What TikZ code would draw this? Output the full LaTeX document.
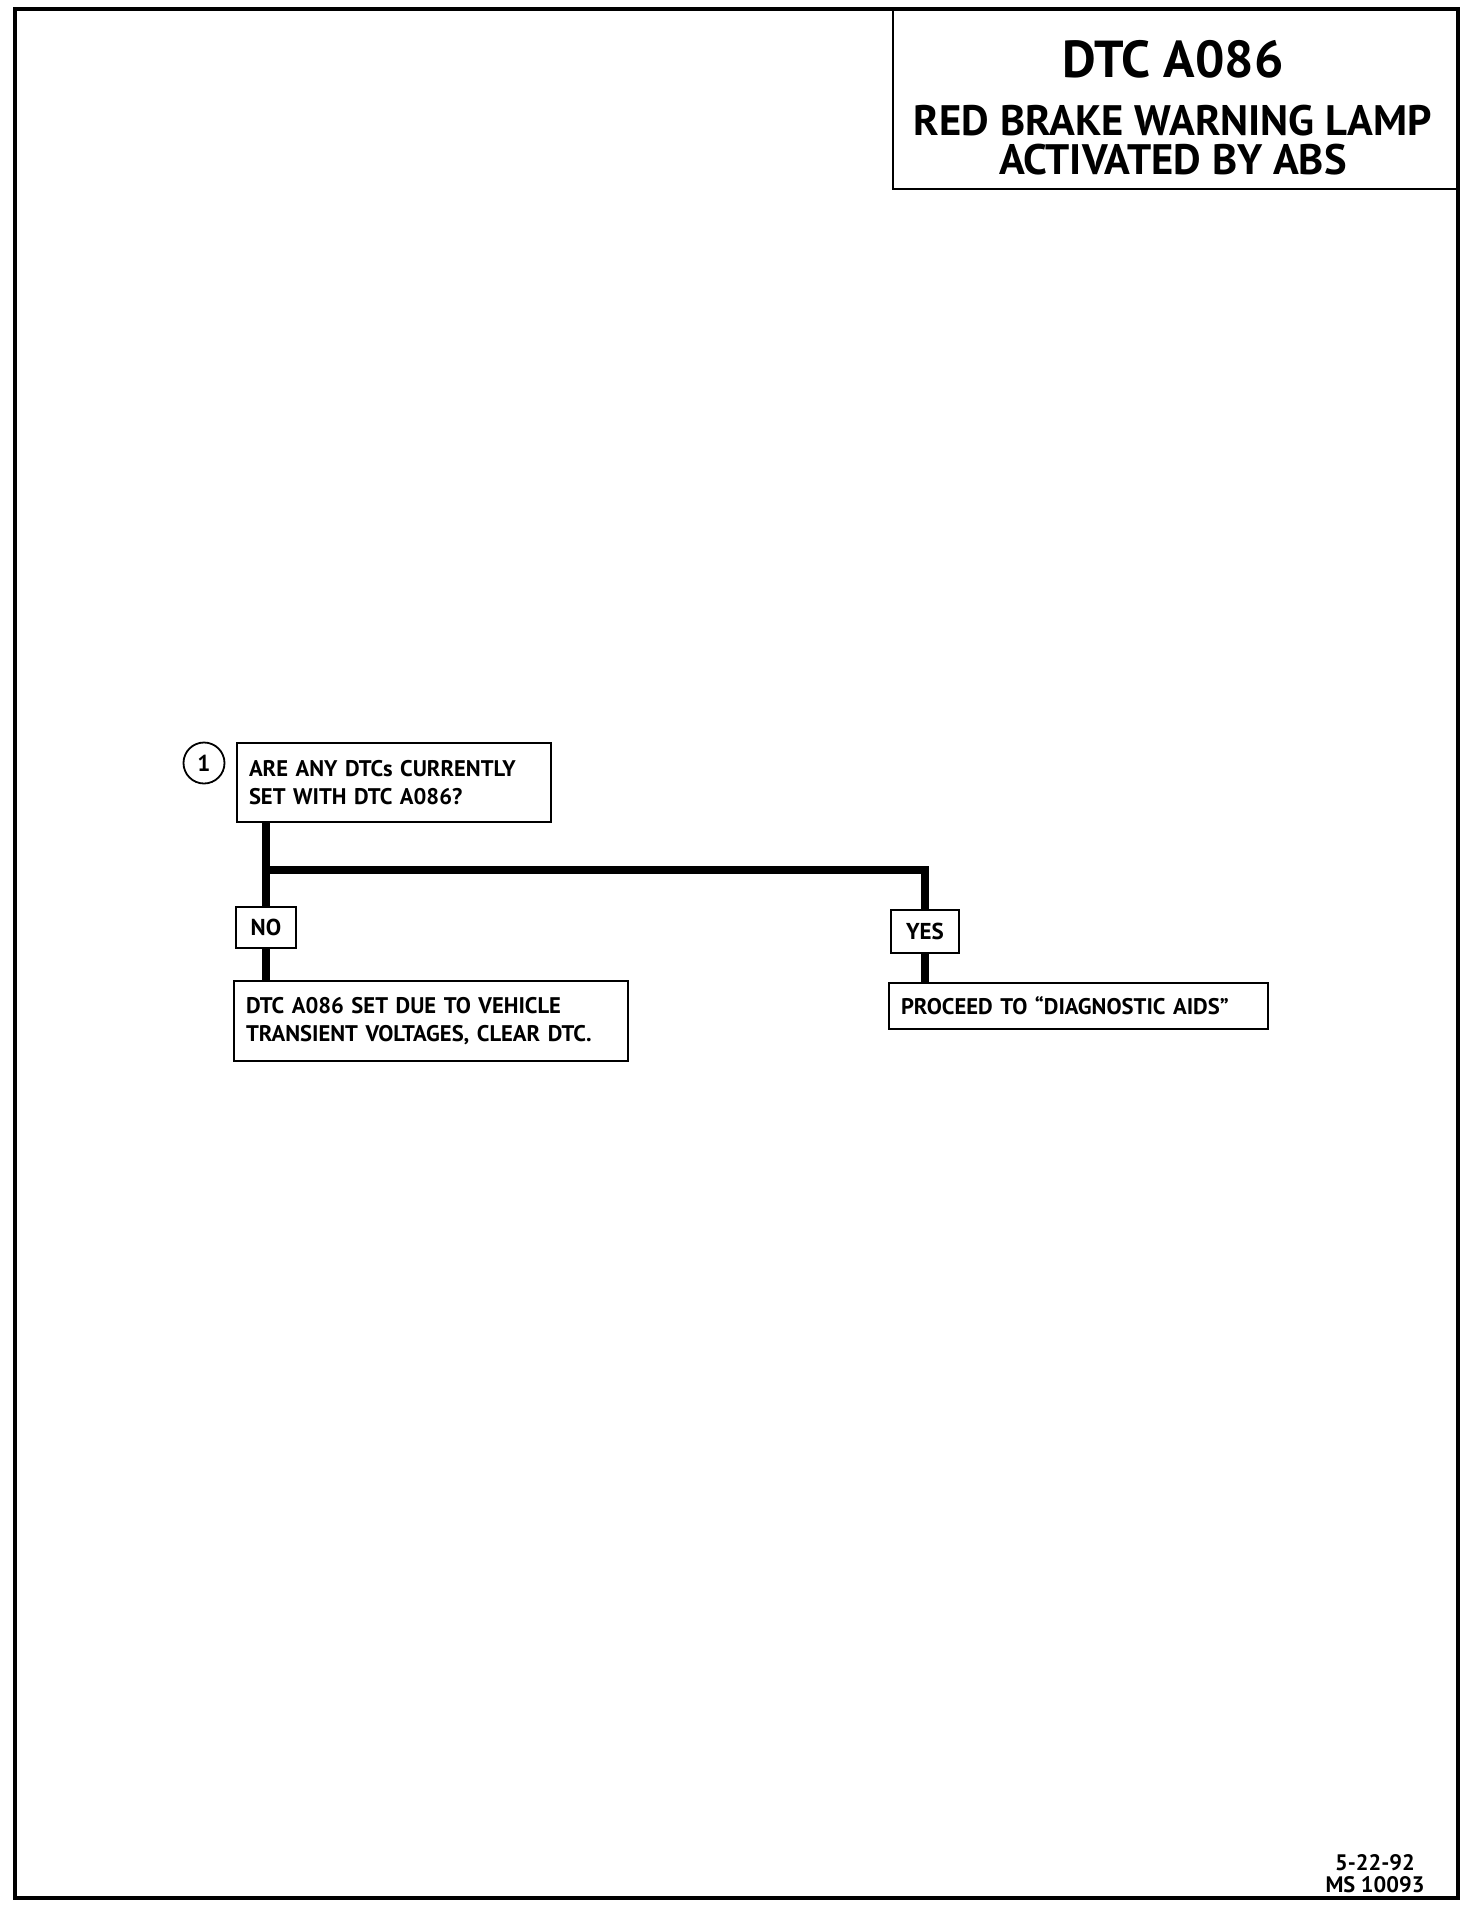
\documentclass[tikz,border=0pt]{standalone}
\usepackage{fontspec}
\setmainfont{PT Sans}
\usetikzlibrary{calc}
\begin{document}
\begin{tikzpicture}[x=0.5pt,y=-0.5pt,
  every node/.style={font=\bfseries},
  box/.style={draw,line width=1.1pt,inner xsep=6pt,inner ysep=0pt,align=left,anchor=center},
  lbl/.style={draw,line width=1.1pt,inner sep=0pt,anchor=center,font=\bfseries\fontsize{11.5}{12}\selectfont},
  conn/.style={line width=3.6pt},
  txt/.style={font=\bfseries\fontsize{11.3}{13.8}\selectfont}]
\useasboundingbox (0,0) rectangle (1472,1912);
% outer frame
\draw[line width=2pt] (15,9) rectangle (1458,1898);
% title box
\draw[line width=1.2pt] (893,9) |- (1458,189);
\node[font=\bfseries\fontsize{26}{30}\selectfont] (title) at (1173,59) {DTC A086};
\node[font=\bfseries\fontsize{21.3}{19.5}\selectfont,align=center] (subtitle) at (1173,140) {RED BRAKE WARNING LAMP\\ACTIVATED BY ABS};
% step number
\node[draw,circle,line width=0.9pt,minimum size=20.5pt,inner sep=0pt,font=\bfseries\fontsize{11.5}{12}\selectfont] (n1) at (204,763) {1};
% question
\node[box,txt,text width=145pt,minimum height=39.5pt] (q) at (394,782.5) {ARE ANY DTCs CURRENTLY\\SET WITH DTC A086?};
% answer labels
\node[lbl,minimum width=30pt,minimum height=20.5pt] (no) at (266,927.5) {NO};
\node[lbl,minimum width=34pt,minimum height=21.5pt] (yes) at (925,931.5) {YES};
% results
\node[box,txt,text width=185pt,minimum height=40pt] (nores) at (431,1021) {DTC A086 SET DUE TO VEHICLE\\TRANSIENT VOLTAGES, CLEAR DTC.};
\node[box,txt,text width=177.5pt,minimum height=23pt] (yesres) at (1078.5,1006) {PROCEED TO ``DIAGNOSTIC AIDS''};
% connectors
\coordinate (j) at (266,870);
\draw[conn] (q.south -| no.north) -- (no.north);
\draw[conn] (j) -| (yes.north);
\draw[conn] (no.south) -- (no.south |- nores.north);
\draw[conn] (yes.south) -- (yes.south |- yesres.north);
% footer
\node[font=\bfseries\fontsize{11.2}{11}\selectfont,align=center,inner sep=0pt] (foot) at (1375,1874) {5-22-92\\MS 10093};
\end{tikzpicture}
\end{document}
